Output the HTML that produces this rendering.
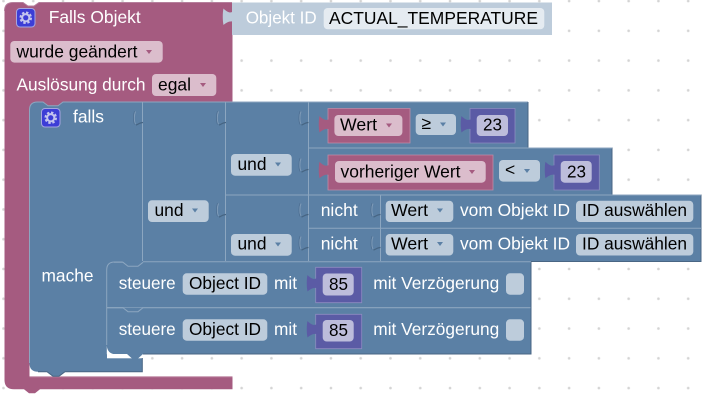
<!DOCTYPE html>
<html><head><meta charset="utf-8"><style>
html,body{margin:0;padding:0;background:#fff;width:712px;height:401px;overflow:hidden}
svg{display:block}
text{font-family:"Liberation Sans",Arial,sans-serif;font-size:17.5px;fill:#000}
.w{fill:#fff}
.hi{fill:none;stroke:#8ca6c0;stroke-width:1}
.dk{fill:none;stroke:#496684;stroke-width:1}
</style></head><body>
<svg width="712" height="401" viewBox="0 0 712 401" xmlns="http://www.w3.org/2000/svg">
<defs>
<pattern id="g" x="-11.4" y="-13.8" width="29.77" height="29.77" patternUnits="userSpaceOnUse"><circle cx="14.88" cy="14.88" r="1.3" fill="#d4d4d4"/></pattern>
<path id="t" d="M0.500 3.500L-2 4C-5 3.500-7 1.500-8.500 0C-9.500 4-9.500 12-8.500 16.500C-6 14.500-3 12.500 0.500 13z"/>
<g id="n"><path d="M-7.500 1.500C-9 5-9 11-7.500 14" fill="none" stroke="#7f9bb8" stroke-width="1"/><path d="M-7 15C-5 14.500-3 12.500 0 12.500" fill="none" stroke="#466482" stroke-width="1.200"/><path d="M-8.500 1C-10 5-10 11-8.500 14.500" fill="none" stroke="#4f7093" stroke-width="0.800"/></g>
<g id="gear"><rect x="0.500" y="0.500" width="18.500" height="18.500" rx="3.500" fill="#3d3dd6" stroke="#a5a5e0" stroke-width="1"/><circle cx="9.750" cy="9.750" r="5.200" fill="none" stroke="#c4c4ee" stroke-width="2.200" stroke-dasharray="2.400 1.700"/><circle cx="9.750" cy="9.750" r="3.600" fill="none" stroke="#c4c4ee" stroke-width="2"/></g>
</defs>
<rect width="712" height="401" fill="#fff"/>
<rect width="712" height="401" fill="url(#g)"/>

<!-- event block -->
<path d="M4.500 11q0-8.500 8.500-8.500h10l5 3.500h6l5-3.500H232.500V108H29.500V376.700H232.500V389.300H40l-5 4h-6l-5-4H14q-9.500 0-9.500-9.500z" fill="#a55b80"/>
<path d="M29.500 376.700H232.500" stroke="#c08ca6" stroke-width="1" fill="none"/>
<path d="M4.500 11q0-8.500 8.500-8.500h10l5 3.500h6l5-3.500H232" stroke="#b57f9c" stroke-width="1" fill="none"/>

<!-- objekt id -->
<path d="M232 2.500H552V35H232z" fill="#bdccdb"/>
<use href="#t" x="232" y="8.500" fill="#bdccdb"/>
<rect x="323.700" y="8" width="220.600" height="21.300" rx="4" fill="#e5ebf1"/>
<text class="w" x="245.700" y="23.500" textLength="71" lengthAdjust="spacingAndGlyphs">Objekt ID</text>
<text x="329" y="24" textLength="209" lengthAdjust="spacingAndGlyphs">ACTUAL_TEMPERATURE</text>

<use href="#gear" x="16" y="8"/>
<text class="w" x="48.700" y="23" textLength="92" lengthAdjust="spacingAndGlyphs">Falls Objekt</text>
<rect x="10.300" y="41" width="152.400" height="21.600" rx="4" fill="#dbbdcc"/>
<text x="16.500" y="57.500" textLength="121" lengthAdjust="spacingAndGlyphs">wurde geändert</text>
<path d="M146 50h6l-3 4z" fill="#a55b80"/>
<text class="w" x="16.500" y="90.500" textLength="129" lengthAdjust="spacingAndGlyphs">Auslösung durch</text>
<rect x="152" y="74" width="64.300" height="22" rx="4" fill="#dbbdcc"/>
<text x="158" y="90.500" textLength="33" lengthAdjust="spacingAndGlyphs">egal</text>
<path d="M200 83h6l-3 4z" fill="#a55b80"/>

<!-- falls block -->
<path d="M37.500 102H528V148H612V195H701V261.500H531V354H107V358H142.300V371.700H65l-6 4.500h-6l-6-4.500H38q-8.500 0-8.500-8.500V110q0-8 8-8z" fill="#5b80a5"/>
<!-- parent's tab dent into the top of falls -->
<path d="M43 101.500h20l-5 4.300h-10z" fill="#a55b80"/>
<path d="M29.500 363V110q0-8 8-8H43l5 3.800h10l5-3.800H528" class="hi"/>
<!-- inner statement: gap below stack -->
<rect x="107" y="354.300" width="36" height="4" fill="#fff"/>
<path d="M106.800 345.500q0.500 8.500 9 8.800h-9z" fill="#fff"/>
<path d="M106.700 345v-75q0-8 8-8h8" class="hi"/>
<path d="M122 354h5l5 4.500h6l5-4.500z" fill="#5b80a5"/>
<path d="M107 354c0 0 1 3 9 4h10v-4z" fill="#fff"/>
<!-- outline right/bottom -->
<path d="M528 102V148H612V195H701V261.500H531V354H143M142.300 358V371.700H65l-6 4.500h-6l-6-4.500H38" class="dk"/>
<!-- separators -->
<path d="M142.500 102V261M225.500 102V261M308.500 102V261M380.500 195V261M226 195H701M143 261.800H531M308 148H612M308 228.200H701" class="hi"/>
<path d="M107 307.700H530.500" stroke="#8ca6c0" stroke-width="1.200" fill="none"/>
<path d="M114 262.300h9l5 4h10l5-4" fill="#5b80a5" stroke="#8ca6c0"/>
<path d="M107 307.700h16l5 4h10l5-4" fill="#5b80a5" stroke="#8ca6c0"/>
<!-- notches -->
<use href="#n" x="143" y="110"/><use href="#n" x="226" y="110"/><use href="#n" x="308.500" y="110"/>
<use href="#n" x="308.500" y="157"/>
<use href="#n" x="226" y="202"/><use href="#n" x="308.500" y="202"/><use href="#n" x="380.500" y="202"/>
<use href="#n" x="308.500" y="235"/><use href="#n" x="380.500" y="235"/>

<use href="#gear" x="41" y="108"/>
<text class="w" x="73" y="122.500" textLength="31" lengthAdjust="spacingAndGlyphs">falls</text>
<text class="w" x="41.500" y="281.500" textLength="52" lengthAdjust="spacingAndGlyphs">mache</text>

<!-- row 1 -->
<path d="M328 108.500H410V143H328z" fill="#a55b80" stroke="#c08ca6" stroke-width="0.800"/>
<use href="#t" x="328" y="116" fill="#a55b80"/>
<rect x="334.400" y="115" width="68" height="21" rx="4" fill="#dbbdcc"/>
<text x="340" y="130.500" textLength="37" lengthAdjust="spacingAndGlyphs">Wert</text>
<path d="M386 123.500h6l-3 4z" fill="#a55b80"/>
<rect x="415.700" y="114" width="40.300" height="21" rx="4" fill="#bdccdb"/>
<text x="421.500" y="129">≥</text>
<path d="M440 122.500h6l-3 4z" fill="#5b80a5"/>
<path d="M470 108.500H515V143H470z" fill="#5b5ba5" stroke="#8c8cc0" stroke-width="0.800"/>
<use href="#t" x="470" y="116" fill="#5b5ba5"/>
<rect x="476.700" y="115" width="31.300" height="21" rx="4" fill="#bdbddb"/>
<text x="483" y="130.500" textLength="19" lengthAdjust="spacingAndGlyphs">23</text>

<!-- row 2 -->
<rect x="231" y="154" width="60.700" height="21.700" rx="4" fill="#bdccdb"/>
<text x="237.500" y="170" textLength="29" lengthAdjust="spacingAndGlyphs">und</text>
<path d="M275 162.500h6l-3 4z" fill="#5b80a5"/>
<path d="M328 155H493V190H328z" fill="#a55b80" stroke="#c08ca6" stroke-width="0.800"/>
<use href="#t" x="328" y="161.700" fill="#a55b80"/>
<rect x="335" y="161" width="150.700" height="21.700" rx="4" fill="#dbbdcc"/>
<text x="340.500" y="177.500" textLength="120" lengthAdjust="spacingAndGlyphs">vorheriger Wert</text>
<path d="M469 170h6l-3 4z" fill="#a55b80"/>
<rect x="499" y="160" width="41" height="21.600" rx="4" fill="#bdccdb"/>
<text x="505" y="175.500">&lt;</text>
<path d="M524 169h6l-3 4z" fill="#5b80a5"/>
<path d="M554 155H599.300V190H554z" fill="#5b5ba5" stroke="#8c8cc0" stroke-width="0.800"/>
<use href="#t" x="554" y="161.700" fill="#5b5ba5"/>
<rect x="560.700" y="161" width="31" height="21.700" rx="4" fill="#bdbddb"/>
<text x="567" y="177.500" textLength="19" lengthAdjust="spacingAndGlyphs">23</text>

<!-- outer und -->
<rect x="148" y="200.300" width="60.700" height="21.700" rx="4" fill="#bdccdb"/>
<text x="154.500" y="216" textLength="29" lengthAdjust="spacingAndGlyphs">und</text>
<path d="M192 208.500h6l-3 4z" fill="#5b80a5"/>
<rect x="231" y="234" width="60.700" height="21.700" rx="4" fill="#bdccdb"/>
<text x="237.500" y="249.500" textLength="29" lengthAdjust="spacingAndGlyphs">und</text>
<path d="M275 242.500h6l-3 4z" fill="#5b80a5"/>

<!-- nicht rows -->
<text class="w" x="320.700" y="216" textLength="37" lengthAdjust="spacingAndGlyphs">nicht</text>
<rect x="385.700" y="200.700" width="67.600" height="21.300" rx="4" fill="#bdccdb"/>
<text x="391" y="216" textLength="37" lengthAdjust="spacingAndGlyphs">Wert</text>
<path d="M437 208.500h6l-3 4z" fill="#5b80a5"/>
<text class="w" x="460" y="216" textLength="110" lengthAdjust="spacingAndGlyphs">vom Objekt ID</text>
<rect x="576" y="200.700" width="117.300" height="21.300" rx="4" fill="#bdccdb"/>
<text x="582" y="216" textLength="105" lengthAdjust="spacingAndGlyphs">ID auswählen</text>

<text class="w" x="320.700" y="249.300" textLength="37" lengthAdjust="spacingAndGlyphs">nicht</text>
<rect x="385.700" y="234" width="67.600" height="21.500" rx="4" fill="#bdccdb"/>
<text x="391" y="249.300" textLength="37" lengthAdjust="spacingAndGlyphs">Wert</text>
<path d="M437 242h6l-3 4z" fill="#5b80a5"/>
<text class="w" x="460" y="249.300" textLength="110" lengthAdjust="spacingAndGlyphs">vom Objekt ID</text>
<rect x="576" y="234" width="117.300" height="21.500" rx="4" fill="#bdccdb"/>
<text x="582" y="249.300" textLength="105" lengthAdjust="spacingAndGlyphs">ID auswählen</text>

<!-- steuere 1 -->
<text class="w" x="118.700" y="288.800" textLength="57" lengthAdjust="spacingAndGlyphs">steuere</text>
<rect x="182.700" y="273.300" width="84.600" height="21.400" rx="4" fill="#bdccdb"/>
<text x="189" y="289" textLength="72" lengthAdjust="spacingAndGlyphs">Object ID</text>
<text class="w" x="274" y="288.800" textLength="23" lengthAdjust="spacingAndGlyphs">mit</text>
<path d="M315.700 267.300H361.700V302.700H315.700z" fill="#5b5ba5" stroke="#8c8cc0" stroke-width="0.800"/>
<use href="#t" x="316" y="275" fill="#5b5ba5"/>
<rect x="322.700" y="273.500" width="31" height="22" rx="4" fill="#bdbddb"/>
<text x="329" y="290" textLength="19" lengthAdjust="spacingAndGlyphs">85</text>
<text class="w" x="373.300" y="288.800" textLength="126" lengthAdjust="spacingAndGlyphs">mit Verzögerung</text>
<rect x="506" y="273.300" width="18" height="21.400" rx="4" fill="#bdccdb"/>

<!-- steuere 2 -->
<text class="w" x="118.700" y="334.800" textLength="57" lengthAdjust="spacingAndGlyphs">steuere</text>
<rect x="182.700" y="319.300" width="84.600" height="21.400" rx="4" fill="#bdccdb"/>
<text x="189" y="335" textLength="72" lengthAdjust="spacingAndGlyphs">Object ID</text>
<text class="w" x="274" y="334.800" textLength="23" lengthAdjust="spacingAndGlyphs">mit</text>
<path d="M315.700 314.300H361.700V348.700H315.700z" fill="#5b5ba5" stroke="#8c8cc0" stroke-width="0.800"/>
<use href="#t" x="316" y="321" fill="#5b5ba5"/>
<rect x="322.700" y="320" width="31" height="21.500" rx="4" fill="#bdbddb"/>
<text x="329" y="336" textLength="19" lengthAdjust="spacingAndGlyphs">85</text>
<text class="w" x="373.300" y="334.800" textLength="126" lengthAdjust="spacingAndGlyphs">mit Verzögerung</text>
<rect x="506" y="319.300" width="18" height="21.400" rx="4" fill="#bdccdb"/>
</svg>
</body></html>
